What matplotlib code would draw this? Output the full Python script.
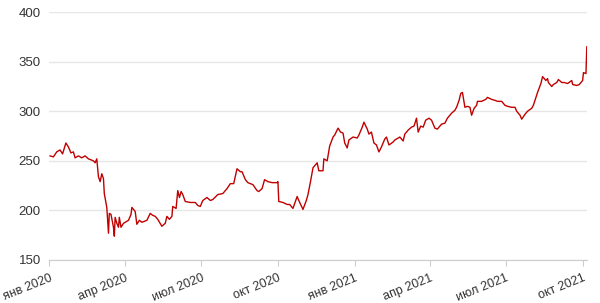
import pandas as pd
import matplotlib
matplotlib.use("Agg")
import matplotlib.pyplot as plt

plt.rcParams['font.family'] = ['Liberation Sans', 'DejaVu Sans']

# price series
dates = [
    "2020-01-02", "2020-01-06", "2020-01-10", "2020-01-14", "2020-01-17", "2020-01-21",
    "2020-01-24", "2020-01-27", "2020-01-30", "2020-02-01", "2020-02-05", "2020-02-09",
    "2020-02-13", "2020-02-17", "2020-02-23", "2020-02-25", "2020-02-27", "2020-02-29",
    "2020-03-02", "2020-03-04", "2020-03-06", "2020-03-07", "2020-03-10", "2020-03-12",
    "2020-03-13", "2020-03-15", "2020-03-18", "2020-03-19", "2020-03-20", "2020-03-22",
    "2020-03-24", "2020-03-25", "2020-03-27", "2020-03-30", "2020-04-01", "2020-04-05",
    "2020-04-08", "2020-04-09", "2020-04-13", "2020-04-15", "2020-04-18", "2020-04-21",
    "2020-04-24", "2020-04-27", "2020-05-01", "2020-05-04", "2020-05-07", "2020-05-10",
    "2020-05-15", "2020-05-19", "2020-05-21", "2020-05-24", "2020-05-27", "2020-05-28",
    "2020-06-01", "2020-06-03", "2020-06-05", "2020-06-07", "2020-06-09", "2020-06-12",
    "2020-06-18", "2020-06-24", "2020-06-27", "2020-06-30", "2020-07-03", "2020-07-08",
    "2020-07-12", "2020-07-15", "2020-07-21", "2020-07-27", "2020-08-01", "2020-08-05",
    "2020-08-09", "2020-08-13", "2020-08-17", "2020-08-19", "2020-08-23", "2020-08-26",
    "2020-09-01", "2020-09-06", "2020-09-08", "2020-09-12", "2020-09-15", "2020-09-19",
    "2020-09-24", "2020-09-30", "2020-10-01", "2020-10-02", "2020-10-07", "2020-10-12",
    "2020-10-15", "2020-10-19", "2020-10-24", "2020-10-26", "2020-10-31", "2020-11-04",
    "2020-11-06", "2020-11-09", "2020-11-12", "2020-11-14", "2020-11-17", "2020-11-19",
    "2020-11-24", "2020-11-25", "2020-11-29", "2020-12-02", "2020-12-06", "2020-12-08",
    "2020-12-12", "2020-12-15", "2020-12-18", "2020-12-20", "2020-12-23", "2020-12-25",
    "2020-12-30", "2021-01-04", "2021-01-06", "2021-01-10", "2021-01-12", "2021-01-16",
    "2021-01-18", "2021-01-21", "2021-01-24", "2021-01-27", "2021-01-30", "2021-02-02",
    "2021-02-06", "2021-02-08", "2021-02-11", "2021-02-16", "2021-02-18", "2021-02-22",
    "2021-02-24", "2021-02-28", "2021-03-02", "2021-03-06", "2021-03-10", "2021-03-13",
    "2021-03-16", "2021-03-18", "2021-03-21", "2021-03-24", "2021-03-27", "2021-03-31",
    "2021-04-03", "2021-04-07", "2021-04-10", "2021-04-15", "2021-04-19", "2021-04-22",
    "2021-04-27", "2021-05-01", "2021-05-03", "2021-05-06", "2021-05-08", "2021-05-10",
    "2021-05-13", "2021-05-16", "2021-05-19", "2021-05-21", "2021-05-24", "2021-05-27",
    "2021-05-28", "2021-06-02", "2021-06-07", "2021-06-09", "2021-06-14", "2021-06-18",
    "2021-06-21", "2021-06-26", "2021-06-30", "2021-07-03", "2021-07-08", "2021-07-12",
    "2021-07-14", "2021-07-18", "2021-07-20", "2021-07-24", "2021-07-27", "2021-08-01",
    "2021-08-03", "2021-08-06", "2021-08-08", "2021-08-12", "2021-08-14", "2021-08-18",
    "2021-08-20", "2021-08-21", "2021-08-25", "2021-08-27", "2021-08-31", "2021-09-02",
    "2021-09-06", "2021-09-09", "2021-09-13", "2021-09-18", "2021-09-19", "2021-09-24",
    "2021-09-27", "2021-10-01", "2021-10-02", "2021-10-05", "2021-10-06",
]
prices = [
    255, 254, 259, 261, 257, 268,
    264, 258, 259, 253, 255, 253,
    255, 252, 250, 248, 252, 234,
    229, 237, 232, 217, 203, 177,
    197, 196, 183, 174, 193, 187,
    183, 193, 183, 187, 188, 190,
    196, 203, 199, 186, 190, 188,
    189, 190, 197, 195, 194, 191,
    184, 187, 194, 191, 194, 204,
    202, 220, 213, 219, 216, 209,
    208, 208, 205, 204, 210, 213,
    210, 211, 216, 217, 222, 227,
    227, 242, 239, 239, 231, 228,
    226, 220, 219, 222, 231, 229,
    228, 228, 229, 209, 208, 206,
    206, 202, 214, 210, 201, 210,
    216, 229, 243, 245, 248, 240,
    240, 252, 250, 265, 274, 276,
    283, 279, 278, 268, 263, 271,
    274, 273, 276, 284, 289, 282,
    277, 279, 268, 266, 259, 264,
    272, 274, 266, 269, 271, 273,
    274, 270, 277, 281, 284, 285,
    293, 279, 285, 284, 291, 293,
    291, 283, 282, 287, 288, 293,
    298, 301, 304, 311, 318, 319,
    304, 305, 304, 296, 303, 306,
    310, 310, 312, 314, 312, 311,
    310, 310, 306, 305, 304, 304,
    300, 296, 292, 297, 300, 303,
    306, 314, 319, 328, 335, 331,
    333, 329, 325, 327, 329, 332,
    329, 329, 328, 331, 327, 326,
    327, 331, 339, 338, 365,
]
y_ticks = [150, 200, 250, 300, 350, 400]
x_ticks = ["2020-01-01", "2020-04-01", "2020-07-01", "2020-10-01",
           "2021-01-01", "2021-04-01", "2021-07-01", "2021-10-01"]
x_labels = ["янв 2020", "апр 2020", "июл 2020", "окт 2020",
            "янв 2021", "апр 2021", "июл 2021", "окт 2021"]

df = pd.DataFrame({"date": pd.to_datetime(dates), "price": prices})

fig = plt.figure(figsize=(6, 3.03), dpi=100)
ax = fig.add_axes([0.082, 0.142, 0.896, 0.818])

ax.plot(df["date"], df["price"], color="#c00000", lw=1.0)

ax.set_ylim(150, 400)
ax.set_xlim(pd.Timestamp("2020-01-01"), pd.Timestamp("2021-10-06"))
ax.set_yticks(y_ticks)
ax.set_xticks(pd.to_datetime(x_ticks))
ax.set_xticklabels(x_labels, rotation=22, ha="right", rotation_mode="anchor")

ax.grid(axis="y", color="#e6e6e6", lw=1)
ax.set_axisbelow(True)
for s in ["top", "right", "left"]:
    ax.spines[s].set_visible(False)
ax.spines["bottom"].set_color("#cccccc")
ax.tick_params(axis="y", length=0, pad=6, labelsize=9.5, labelcolor="#333333")
ax.tick_params(axis="x", length=4, color="#cccccc", pad=5, labelsize=9, labelcolor="#333333")

fig.savefig("out.png", dpi=100)
